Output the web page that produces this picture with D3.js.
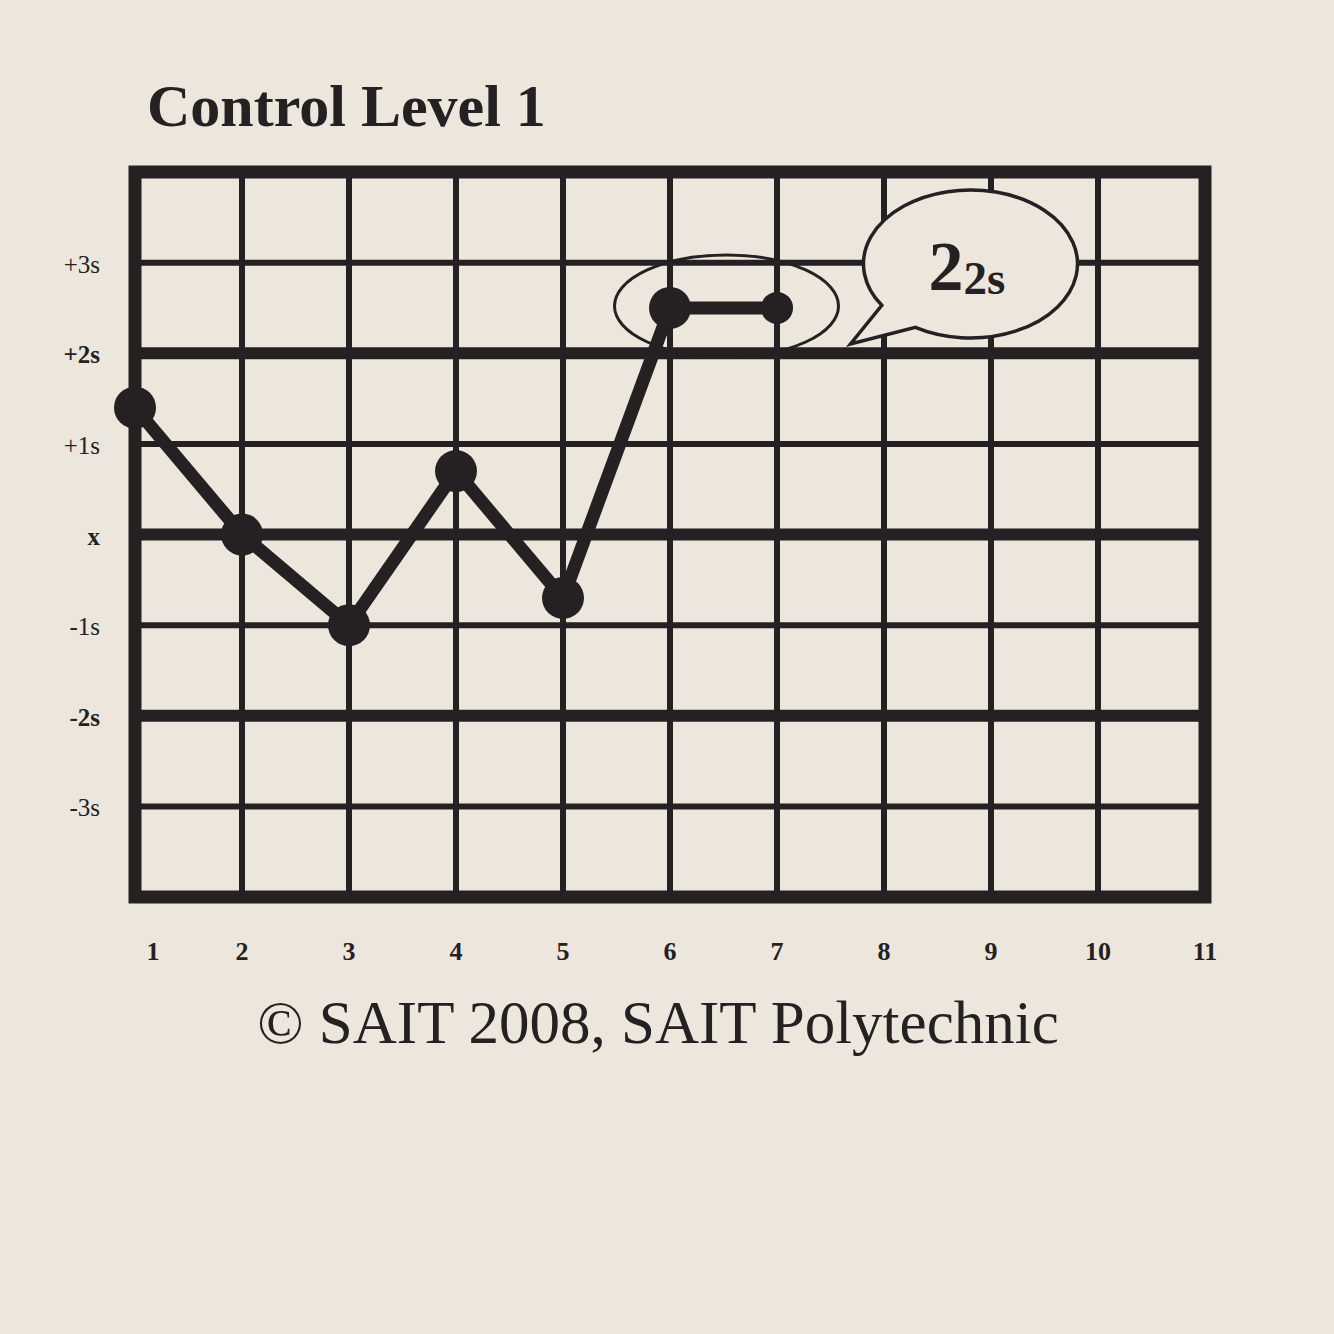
<!DOCTYPE html>
<meta charset="utf-8">
<script src="https://d3js.org/d3.v7.min.js"></script>
<style>
  html, body { margin: 0; padding: 0; background: #ece6dd; }
  svg { display: block; }
</style>
<body>
<div id="chart"></div>
<script>
// Levey-Jennings chart: control level 1 runs
var runs = [1, 2, 3, 4, 5, 6, 7];
var sdValues = [1.4, 0, -1.0, 0.7, -0.7, 2.5, 2.5];
var xTicks = [1, 2, 3, 4, 5, 6, 7, 8, 9, 10, 11];
var yTicks = [3, 2, 1, 0, -1, -2, -3];
var yLabels = ["+3s", "+2s", "+1s", "x", "-1s", "-2s", "-3s"];
var ruleRuns = [6, 7];   // the 2(2s) violation
var ruleText = "2";
var ruleSub = "2s";

var W = 1334, H = 1334;
var ink = "#252122";
var paper = "#ece6dd";
var serif = "'Liberation Serif', 'DejaVu Serif', serif";

var svg = d3.select("#chart").append("svg").attr("width", W).attr("height", H);

var x = d3.scaleLinear().domain([1, 11]).range([135, 1205]);
var y = d3.scaleLinear().domain([-4, 4]).range([897, 172]);

// title
svg.append("text").attr("x", 147).attr("y", 126)
  .attr("font-family", serif).attr("font-weight", "bold").attr("font-size", 60)
  .attr("fill", ink).text("Control Level 1");

var g = svg.append("g");

// horizontal grid lines, +/-2s and mean thicker
g.selectAll("line.h").data(yTicks).enter().append("line")
  .attr("x1", x(1)).attr("x2", x(11))
  .attr("y1", function(d){ return y(d); }).attr("y2", function(d){ return y(d); })
  .attr("stroke", ink)
  .attr("stroke-width", function(d){ return (d % 2 === 0) ? 12 : 6; });

// vertical grid lines
g.selectAll("line.v").data(xTicks.slice(1, -1)).enter().append("line")
  .attr("x1", function(d){ return x(d); }).attr("x2", function(d){ return x(d); })
  .attr("y1", y(4)).attr("y2", y(-4))
  .attr("stroke", ink).attr("stroke-width", 6);

// frame
g.append("rect").attr("x", x(1)).attr("y", y(4))
  .attr("width", x(11) - x(1)).attr("height", y(-4) - y(4))
  .attr("fill", "none").attr("stroke", ink).attr("stroke-width", 13);

// y labels
svg.selectAll("text.yl").data(yTicks).enter().append("text")
  .attr("x", 100).attr("y", function(d){ return y(d) + 10; })
  .attr("text-anchor", "end")
  .attr("font-family", serif).attr("font-size", 25)
  .attr("font-weight", function(d){ return (d % 2 === 0) ? "bold" : "normal"; })
  .attr("fill", ink)
  .text(function(d, i){ return yLabels[i]; });

// x labels
svg.selectAll("text.xl").data(xTicks).enter().append("text")
  .attr("x", function(d){ return x(d) + (d === 1 ? 18 : 0); })
  .attr("y", 960)
  .attr("text-anchor", "middle")
  .attr("font-family", serif).attr("font-size", 26).attr("font-weight", "bold")
  .attr("fill", ink)
  .text(function(d){ return d; });

// data line + points
var pts = runs.map(function(r, i){ return [r, sdValues[i]]; });
var line = d3.line().x(function(d){ return x(d[0]); }).y(function(d){ return y(d[1]); });
g.append("path").datum(pts).attr("d", line)
  .attr("fill", "none").attr("stroke", ink).attr("stroke-width", 13)
  .attr("stroke-linejoin", "round");
g.selectAll("circle.pt").data(pts).enter().append("circle")
  .attr("cx", function(d){ return x(d[0]); }).attr("cy", function(d){ return y(d[1]); })
  .attr("r", function(d, i){ return i === pts.length - 1 ? 16 : 21; })
  .attr("fill", ink);

// ellipse around the violating runs
var ecx = (x(ruleRuns[0]) + x(ruleRuns[1])) / 2 + 3;
var ecy = y(sdValues[5]) - 2;
g.append("ellipse").attr("cx", ecx).attr("cy", ecy).attr("rx", 112).attr("ry", 51)
  .attr("fill", "none").attr("stroke", ink).attr("stroke-width", 3);

// speech bubble
var bcx = ecx + 244, bcy = ecy - 42, brx = 107, bry = 74;
function onEllipse(deg){
  var a = deg * Math.PI / 180;
  return [bcx + brx * Math.cos(a), bcy + bry * Math.sin(a)];
}
var p1 = onEllipse(146), p2 = onEllipse(121);
var tip = [ecx + 124, ecy + 38];
var bubble = "M" + p1[0] + "," + p1[1] +
  " A" + brx + "," + bry + " 0 1 1 " + p2[0] + "," + p2[1] +
  " L" + tip[0] + "," + tip[1] + " Z";
g.append("path").attr("d", bubble)
  .attr("fill", paper).attr("stroke", ink).attr("stroke-width", 3.5)
  .attr("stroke-linejoin", "miter");

var bt = g.append("text").attr("x", bcx - 42).attr("y", bcy + 26)
  .attr("font-family", serif).attr("font-weight", "bold").attr("fill", ink);
bt.append("tspan").attr("font-size", 70).text(ruleText);
bt.append("tspan").attr("font-size", 47).attr("dy", 4).text(ruleSub);

// footer
svg.append("text").attr("x", 658).attr("y", 1043).attr("text-anchor", "middle")
  .attr("font-family", serif).attr("font-size", 61).attr("fill", ink)
  .text("\u00A9 SAIT 2008, SAIT Polytechnic");
</script>
</body>
